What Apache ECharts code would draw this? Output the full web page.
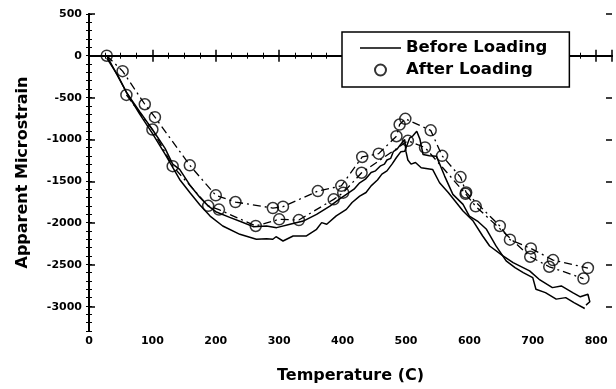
<!DOCTYPE html>
<html>
<head>
<meta charset="utf-8">
<script src="https://cdn.jsdelivr.net/npm/echarts@6/dist/echarts.min.js"></script>
<style>html,body{margin:0;padding:0;background:#fff;}#c{width:616px;height:389px;}</style>
</head>
<body>
<div id="c"></div>
<script>
// ---- data ----
const xTicks = [0, 100, 200, 300, 400, 500, 600, 700, 800];
const yTicks = [500, 0, -500, -1000, -1500, -2000, -2500, -3000];

// Before Loading, trace 1 (outer)
const before1X = [28,40,60,80,100,120,143,159,175,191,211,238,264,280,290,295,306,322,343,359,367,375,390,406,415,427,437,445,455,462,470,478,485,492,498,506,511,517,522,527,537,548,561,574,590,600,614,627,642,658,672,685,700,705,720,737,752,765,782];
const before1Y = [0,-170,-450,-700,-930,-1180,-1483,-1640,-1790,-1922,-2041,-2141,-2200,-2195,-2200,-2170,-2221,-2161,-2161,-2081,-2001,-2021,-1920,-1842,-1760,-1683,-1640,-1560,-1490,-1420,-1380,-1300,-1220,-1150,-1144,-984,-960,-905,-1000,-1184,-1200,-1204,-1443,-1662,-1782,-1922,-1990,-2081,-2280,-2460,-2540,-2600,-2660,-2800,-2840,-2918,-2900,-2960,-3030];

// Before Loading, trace 2 (inner)
const before2X = [28,45,59,80,100,120,132,143,160,175,188,200,222,240,259,280,296,317,338,359,380,395,406,418,427,436,445,452,460,466,470,476,480,486,490,498,500,503,508,515,524,542,553,567,590,606,621,632,653,669,695,710,731,745,763,775,787,790,784];
const before2Y = [-30,-230,-440,-670,-885,-1110,-1300,-1363,-1560,-1700,-1800,-1870,-1938,-1990,-2049,-2041,-2061,-2021,-1982,-1902,-1802,-1720,-1663,-1600,-1523,-1480,-1400,-1380,-1320,-1300,-1250,-1230,-1150,-1120,-1080,-1005,-1150,-1250,-1300,-1280,-1343,-1363,-1523,-1642,-1862,-1982,-2161,-2281,-2400,-2480,-2580,-2680,-2780,-2760,-2840,-2890,-2860,-2950,-2990];

// After Loading, run A (upper circles)
const afterAX = [28,53,88,104,159,200,231,290,306,361,398,431,457,485,490,499,539,557,586,595,648,664,697,732,787];
const afterAY = [0,-185,-582,-737,-1314,-1674,-1754,-1826,-1810,-1623,-1560,-1214,-1174,-965,-825,-757,-895,-1200,-1455,-1640,-2041,-2205,-2310,-2450,-2545];

// After Loading, run B (lower circles)
const afterBX = [59,100,132,188,205,263,300,331,386,401,430,503,530,594,610,696,726,780];
const afterBY = [-470,-885,-1324,-1800,-1845,-2041,-1961,-1970,-1722,-1642,-1403,-1020,-1100,-1655,-1806,-2410,-2530,-2671];

// ---- helpers ----
const zip = (xs, ys) => xs.map((x, i) => [x, ys[i]]);
const FONT = 'DejaVu Sans';
const X_MIN = 0, X_MAX = 825, Y_MIN = -3300, Y_MAX = 500;
const G = {left: 89, right: 4, top: 14, bottom: 57};
const plotH = 389 - G.top - G.bottom;
const g2Bottom = G.bottom + plotH * (yTicks[yTicks.length - 1] - Y_MIN) / (Y_MAX - Y_MIN);

const chart = echarts.init(document.getElementById('c'), null, {renderer: 'canvas'});
const lineAxis = {show: true, lineStyle: {color: '#000', width: 2}};
const labelStyle = {color: '#000', fontFamily: FONT, fontWeight: 'bold', fontSize: 11};
const lineIcon = 'path://M0,0H0.01V0.01H0Z M0,4.7H41V6.3H0Z M0,10.99H0.01V11H0Z';

chart.setOption({
  animation: false,
  backgroundColor: '#fff',
  grid: [
    {left: G.left, right: G.right, top: G.top, bottom: G.bottom},
    {left: G.left, right: G.right, top: G.top, bottom: g2Bottom}
  ],
  legend: {
    data: [{name: 'Before Loading', icon: lineIcon}, {name: 'After Loading'}],
    orient: 'vertical',
    left: 342, top: 32,
    padding: [7, 22, 8, 18],
    itemGap: 4,
    itemWidth: 41, itemHeight: 11,
    backgroundColor: '#fff',
    borderColor: '#000', borderWidth: 1.5, borderRadius: 0,
    selectedMode: false,
    textStyle: {color: '#000', fontFamily: FONT, fontWeight: 'bold', fontSize: 16.5, lineHeight: 18}
  },
  xAxis: [
    {
      gridIndex: 0, type: 'value', position: 'bottom', min: X_MIN, max: X_MAX, interval: 100,
      name: 'Temperature (C)', nameLocation: 'middle', nameGap: 37,
      nameTextStyle: {color: '#000', fontFamily: FONT, fontWeight: 'bold', fontSize: 16},
      axisLine: lineAxis,
      axisTick: {show: true, inside: true, length: 6, lineStyle: {color: '#000', width: 1.5}},
      minorTick: {show: true, splitNumber: 4, length: 3, lineStyle: {color: '#000', width: 1}},
      axisLabel: Object.assign({margin: 5, formatter: v => xTicks.includes(v) ? String(v) : ''}, labelStyle),
      splitLine: {show: false}, minorSplitLine: {show: false}
    },
    {
      gridIndex: 0, type: 'value', position: 'top', min: X_MIN, max: X_MAX, interval: 100,
      axisLine: lineAxis,
      axisTick: {show: true, inside: true, length: 6, lineStyle: {color: '#000', width: 1.5}},
      minorTick: {show: true, splitNumber: 4, length: 3, lineStyle: {color: '#000', width: 1}},
      axisLabel: {show: false}, splitLine: {show: false}
    },
    {gridIndex: 1, type: 'value', min: X_MIN, max: X_MAX, show: false}
  ],
  yAxis: [
    {
      gridIndex: 0, type: 'value', position: 'left', min: Y_MIN, max: Y_MAX, interval: 100,
      name: 'Apparent Microstrain', nameLocation: 'middle', nameGap: 58, nameRotate: 90,
      nameTextStyle: {color: '#000', fontFamily: FONT, fontWeight: 'bold', fontSize: 16},
      axisLine: lineAxis,
      axisTick: {show: true, inside: true, length: 3, lineStyle: {color: '#000', width: 1}},
      axisLabel: {show: false}, splitLine: {show: false}
    },
    {
      gridIndex: 0, type: 'value', position: 'right', min: Y_MIN, max: Y_MAX, interval: 100,
      axisLine: lineAxis,
      axisTick: {show: true, inside: true, length: 3, lineStyle: {color: '#000', width: 1}},
      axisLabel: {show: false}, splitLine: {show: false}
    },
    {
      gridIndex: 1, type: 'value', position: 'left', min: yTicks[yTicks.length - 1], max: yTicks[0], interval: 500,
      axisLine: {show: false},
      axisTick: {show: true, inside: true, length: 6, lineStyle: {color: '#000', width: 1.5}},
      axisLabel: Object.assign({margin: 7, formatter: v => String(v)}, labelStyle),
      splitLine: {show: false}
    },
    {
      gridIndex: 1, type: 'value', position: 'right', min: yTicks[yTicks.length - 1], max: yTicks[0], interval: 500,
      axisLine: {show: false},
      axisTick: {show: true, inside: true, length: 6, lineStyle: {color: '#000', width: 1.5}},
      axisLabel: {show: false}, splitLine: {show: false}
    }
  ],
  series: [
    {
      name: 'Before Loading', type: 'line', xAxisIndex: 0, yAxisIndex: 0,
      data: zip(before1X, before1Y), symbol: 'none', showSymbol: false,
      lineStyle: {color: '#000', width: 1.5}, itemStyle: {color: '#000'}, z: 3
    },
    {
      name: 'Before Loading (2)', type: 'line', xAxisIndex: 0, yAxisIndex: 0,
      data: zip(before2X, before2Y), symbol: 'none', showSymbol: false,
      lineStyle: {color: '#000', width: 1.5}, z: 3
    },
    {
      name: 'After A line', type: 'line', xAxisIndex: 0, yAxisIndex: 0,
      data: zip(afterAX, afterAY), symbol: 'none', showSymbol: false,
      lineStyle: {color: '#000', width: 1.3, type: [8, 4, 2, 4]}, z: 2
    },
    {
      name: 'After B line', type: 'line', xAxisIndex: 0, yAxisIndex: 0,
      data: zip(afterBX, afterBY), symbol: 'none', showSymbol: false,
      lineStyle: {color: '#000', width: 1.3, type: [8, 4, 2, 4]}, z: 2
    },
    {
      name: 'After Loading', type: 'scatter', xAxisIndex: 0, yAxisIndex: 0,
      data: zip(afterAX, afterAY).concat(zip(afterBX, afterBY)),
      symbol: 'circle', symbolSize: 11,
      itemStyle: {color: 'rgba(255,255,255,0)', borderColor: '#000', borderWidth: 1.5}, z: 4
    }
  ]
});
</script>
</body>
</html>
